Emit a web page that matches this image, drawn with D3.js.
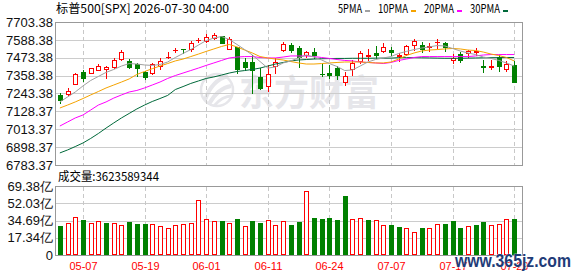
<!DOCTYPE html>
<html>
<head>
<meta charset="utf-8">
<script src="https://cdn.jsdelivr.net/npm/d3@7"></script>
<style>
  body { margin: 0; background: #fff; }
  svg text { font-family: "Liberation Sans", Arial, sans-serif; }
  .cjk { font-family: "Noto Sans CJK SC", sans-serif !important; }
</style>
</head>
<body>
<svg id="chart" width="578" height="276"></svg>
<script>
// trading days shown on the chart
const dates = ['05-04','05-05','05-06','05-07','05-08','05-11','05-12','05-13','05-14','05-15',
  '05-18','05-19','05-20','05-21','05-22','05-26','05-27','05-28','05-29','06-01',
  '06-02','06-03','06-04','06-05','06-08','06-09','06-10','06-11','06-12','06-15',
  '06-16','06-17','06-18','06-22','06-23','06-24','06-25','06-26','06-29','06-30',
  '07-01','07-02','07-06','07-07','07-08','07-09','07-10','07-13','07-14','07-15',
  '07-16','07-17','07-20','07-21','07-22','07-23','07-24','07-27','07-28','07-29']

const open = [7233.7, 7238.3, 7302.6, 7379.8, 7373.4, 7392.7, 7399.1, 7415.8, 7463.4, 7452.5,
  7431.3, 7379.8, 7377.2, 7418.4, 7475.0, 7521.3, 7529.7, 7529.7, 7585.7, 7583.1,
  7602.4, 7610.1, 7527.8, 7542.6, 7448.0, 7444.1, 7351.5, 7291.6, 7422.3, 7523.3,
  7558.6, 7532.9, 7491.1, 7510.4, 7370.1, 7377.2, 7407.4, 7319.3, 7397.8, 7452.5,
  7485.9, 7505.9, 7518.8, 7523.3, 7484.7, 7500.7, 7557.4, 7558.6, 7542.6, 7574.7,
  7566.4, 7458.9, 7495.6, 7502.0, 7512.3, 7423.5, 7416.5, 7476.3, 7399.1, 7426.8]
const high = [7246.6, 7280.7, 7372.1, 7392.7, 7408.0, 7430.0, 7420.3, 7469.9, 7523.3, 7463.4,
  7437.7, 7390.1, 7441.6, 7469.9, 7512.3, 7538.1, 7530.9, 7579.2, 7602.4, 7624.3,
  7630.7, 7615.3, 7606.9, 7544.5, 7469.9, 7487.9, 7409.4, 7426.8, 7469.9, 7576.7,
  7565.1, 7549.0, 7518.8, 7536.1, 7430.0, 7426.8, 7423.5, 7381.7, 7462.1, 7520.0,
  7527.8, 7549.0, 7566.4, 7544.5, 7502.0, 7558.6, 7592.1, 7576.7, 7565.1, 7590.8,
  7576.7, 7500.7, 7512.3, 7523.3, 7534.2, 7458.9, 7462.1, 7491.1, 7454.4, 7449.3]
const low = [7182.3, 7233.7, 7301.3, 7323.8, 7372.1, 7391.4, 7345.1, 7405.5, 7462.1, 7405.5,
  7357.9, 7336.7, 7366.9, 7399.1, 7473.7, 7508.5, 7504.0, 7516.8, 7571.5, 7571.5,
  7592.7, 7565.1, 7526.5, 7377.2, 7394.6, 7244.7, 7272.3, 7261.4, 7373.4, 7520.0,
  7510.4, 7413.9, 7478.2, 7471.8, 7352.8, 7343.1, 7336.7, 7298.1, 7359.2, 7442.8,
  7460.9, 7471.8, 7512.3, 7491.1, 7452.5, 7491.1, 7523.3, 7510.4, 7520.0, 7539.3,
  7516.8, 7442.8, 7448.0, 7478.2, 7491.1, 7383.6, 7401.0, 7388.2, 7388.2, 7317.4]
const close = [7198.4, 7259.5, 7368.9, 7341.2, 7405.5, 7422.3, 7412.0, 7458.9, 7508.5, 7415.8,
  7409.4, 7351.5, 7435.1, 7452.5, 7478.2, 7524.5, 7526.5, 7566.4, 7589.5, 7608.8,
  7621.1, 7566.4, 7594.0, 7401.0, 7415.8, 7394.6, 7276.9, 7366.9, 7448.0, 7559.9,
  7523.3, 7478.2, 7510.4, 7487.9, 7366.9, 7362.4, 7361.1, 7356.0, 7439.6, 7502.0,
  7488.5, 7491.1, 7544.5, 7507.2, 7487.9, 7545.8, 7581.2, 7527.8, 7545.8, 7577.9,
  7542.6, 7468.6, 7458.9, 7516.8, 7514.9, 7416.5, 7419.0, 7422.3, 7433.2, 7319.3]

// moving averages
const ma5 = [7189, 7221, 7253, 7292, 7327, 7353, 7379, 7398, 7420, 7436,
  7433, 7427, 7424, 7430, 7446, 7475, 7501, 7526, 7555, 7584,
  7600, 7610, 7591, 7559, 7526, 7491, 7449, 7407, 7414, 7440,
  7453, 7472, 7491, 7478, 7459, 7436, 7417, 7391, 7395, 7420,
  7446, 7462, 7472, 7481, 7501, 7514, 7526, 7536, 7543, 7552,
  7549, 7533, 7517, 7504, 7494, 7478, 7469, 7456, 7440, 7420]
const ma10 = [7150, 7169, 7189, 7211, 7234, 7256, 7279, 7298, 7317, 7337,
  7366, 7385, 7403, 7420, 7436, 7453, 7465, 7481, 7497, 7514,
  7530, 7546, 7559, 7543, 7523, 7504, 7481, 7472, 7465, 7459,
  7449, 7440, 7433, 7433, 7436, 7440, 7443, 7446, 7446, 7446,
  7443, 7440, 7440, 7446, 7465, 7488, 7504, 7517, 7523, 7526,
  7530, 7533, 7530, 7523, 7520, 7510, 7497, 7488, 7475, 7453]
const ma20 = [7034, 7060, 7086, 7105, 7137, 7169, 7189, 7214, 7234, 7253,
  7263, 7279, 7298, 7317, 7340, 7359, 7375, 7391, 7407, 7424,
  7440, 7456, 7472, 7478, 7481, 7481, 7475, 7472, 7472, 7478,
  7485, 7485, 7485, 7481, 7475, 7469, 7462, 7456, 7453, 7446,
  7443, 7440, 7436, 7443, 7456, 7465, 7475, 7481, 7481, 7481,
  7481, 7481, 7481, 7481, 7485, 7491, 7494, 7494, 7494, 7494]
const ma30 = [6861, 6880, 6902, 6925, 6954, 6986, 7021, 7054, 7086, 7115,
  7144, 7169, 7192, 7211, 7231, 7269, 7288, 7308, 7324, 7340,
  7350, 7362, 7375, 7385, 7391, 7398, 7407, 7420, 7433, 7443,
  7453, 7459, 7462, 7465, 7467, 7468, 7469, 7469, 7470, 7470,
  7470, 7471, 7471, 7471, 7474, 7474, 7474, 7473, 7472, 7471,
  7470, 7470, 7470, 7471, 7472, 7473, 7474, 7474, 7475, 7475]

// volume in 亿 (last one is 3623589344)
const volume = [29.2, 32.2, 37.9, 35.4, 32.2, 34.0, 32.2, 32.2, 30.0, 33.2,
  31.3, 31.3, 31.0, 28.9, 27.1, 30.0, 31.0, 32.2, 55.0, 35.9,
  33.9, 34.2, 32.2, 36.2, 29.0, 34.2, 32.2, 35.0, 30.0, 33.9,
  30.2, 33.5, 64.4, 37.2, 36.2, 37.2, 35.2, 59.3, 35.9, 36.9,
  35.2, 34.9, 29.9, 30.2, 28.2, 26.8, 22.8, 27.1, 26.8, 30.9,
  31.2, 34.2, 27.1, 28.8, 30.2, 33.2, 29.9, 30.9, 35.9, 36.23589344]

const priceTicks = [6783.37, 6898.37, 7013.37, 7128.37, 7243.38, 7358.38, 7473.38, 7588.38, 7703.38]
const volumeTicks = [0, 17.34, 34.69, 52.03, 69.38]
const dateTicks = ['05-07', '05-19', '06-01', '06-11', '06-24', '07-07', '07-17', '07-29']
const maNames = ['5PMA', '10PMA', '20PMA', '30PMA']
const maColors = ['#a0a0a0', '#f5a300', '#ff00ff', '#00693a']
const titleText = '标普500[SPX] 2026-07-30 04:00'
const volumeTitle = '成交量:3623589344'

const RED = '#ff0000', GREEN = '#008000'
const svg = d3.select('#chart')

const x = d3.scaleBand().domain(dates).range([56, 518]).paddingInner(0.35).paddingOuter(0.175)
const cx = d => Math.round(x(d) + x.bandwidth() / 2) + 0.5
const y = d3.scaleLinear().domain([priceTicks[0], priceTicks[priceTicks.length - 1]]).range([165, 22])
const vy = d3.scaleLinear().domain([0, volumeTicks[volumeTicks.length - 1]]).range([255, 186])
const ry = v => Math.round(y(v))

const bars = dates.map((d, i) => ({
  d, i, o: open[i], h: high[i], l: low[i], c: close[i], v: volume[i],
  up: close[i] >= open[i],
  vup: i === 0 ? close[i] >= open[i] : close[i] >= close[i - 1]
}))

// watermark
const wm = svg.append('g').attr('fill', 'none').attr('stroke', '#e6e6ea')
wm.append('circle').attr('cx', 217).attr('cy', 90).attr('r', 16).attr('stroke-width', 2.5)
wm.append('path').attr('d', 'M205,100 Q212,80 228,76').attr('stroke-width', 4)
wm.append('path').attr('d', 'M209,104 Q218,88 231,86').attr('stroke-width', 4)
wm.append('path').attr('d', 'M214,106 Q222,96 232,96').attr('stroke-width', 3)
svg.append('text').attr('class', 'cjk')
  .attr('x', 239).attr('y', 106)
  .attr('font-size', 36).attr('font-weight', 'bold')
  .attr('fill', '#e6e6ea')
  .attr('textLength', 140).attr('lengthAdjust', 'spacingAndGlyphs')
  .text('东方财富')

// grids
const grid = svg.append('g').attr('shape-rendering', 'crispEdges')
grid.selectAll('.hg').data(priceTicks).enter().append('line')
  .attr('x1', 56).attr('x2', 523)
  .attr('y1', d => ry(d) + 0.5).attr('y2', d => ry(d) + 0.5)
  .attr('stroke', '#cccccc')
grid.selectAll('.vhg').data(volumeTicks).enter().append('line')
  .attr('x1', 56).attr('x2', 523)
  .attr('y1', d => Math.round(vy(d)) + 0.5).attr('y2', d => Math.round(vy(d)) + 0.5)
  .attr('stroke', '#cccccc')
grid.selectAll('.vg').data(dateTicks).enter().append('line')
  .attr('x1', cx).attr('x2', cx).attr('y1', 23).attr('y2', 165)
  .attr('stroke', '#c8c8c8').attr('stroke-dasharray', '4,3')
grid.selectAll('.vvg').data(dateTicks).enter().append('line')
  .attr('x1', cx).attr('x2', cx).attr('y1', 187).attr('y2', 255)
  .attr('stroke', '#c8c8c8').attr('stroke-dasharray', '4,3')

// candles
const cg = svg.append('g').attr('shape-rendering', 'crispEdges')
bars.forEach(b => {
  const col = b.up ? RED : GREEN
  const xc = cx(b.d)
  cg.append('line').attr('x1', xc).attr('x2', xc)
    .attr('y1', ry(b.h)).attr('y2', ry(b.l) + 1).attr('stroke', col)
  const top = ry(Math.max(b.o, b.c)), bot = ry(Math.min(b.o, b.c))
  if (bot - top < 1) {
    cg.append('line').attr('x1', xc - 2.5).attr('x2', xc + 2.5)
      .attr('y1', top + 0.5).attr('y2', top + 0.5).attr('stroke', col)
  } else if (b.up) {
    cg.append('rect').attr('x', xc - 2).attr('y', top + 0.5)
      .attr('width', 4).attr('height', bot - top)
      .attr('fill', '#fff').attr('stroke', col)
  } else {
    cg.append('rect').attr('x', xc - 2.5).attr('y', top)
      .attr('width', 5).attr('height', bot - top + 1).attr('fill', col)
  }
})

// moving averages
const line = d3.line().x((v, i) => x(dates[i]) + x.bandwidth() / 2).y(v => y(v))
;[ma30, ma20, ma10, ma5].forEach((arr, k) => {
  svg.append('path').attr('d', line(arr)).attr('fill', 'none')
    .attr('stroke', maColors[3 - k]).attr('stroke-width', 1)
})

// volume bars
const vg = svg.append('g').attr('shape-rendering', 'crispEdges')
bars.forEach(b => {
  const xc = cx(b.d)
  const top = Math.round(vy(b.v))
  if (b.vup) {
    vg.append('rect').attr('x', xc - 2).attr('y', top + 0.5)
      .attr('width', 4).attr('height', 255 - top - 1)
      .attr('fill', '#fff').attr('stroke', RED)
  } else {
    vg.append('rect').attr('x', xc - 2.5).attr('y', top)
      .attr('width', 5).attr('height', 255 - top).attr('fill', GREEN)
  }
})

// frames
svg.append('rect').attr('x', 55.5).attr('y', 22.5).attr('width', 467).attr('height', 143)
  .attr('fill', 'none').attr('stroke', '#999').attr('shape-rendering', 'crispEdges')
svg.append('rect').attr('x', 55.5).attr('y', 186.5).attr('width', 467).attr('height', 69)
  .attr('fill', 'none').attr('stroke', '#999').attr('shape-rendering', 'crispEdges')

// axes
const ya = svg.append('g').attr('transform', 'translate(56,0)')
  .call(d3.axisLeft(y).tickValues(priceTicks).tickSize(0).tickPadding(3).tickFormat(d3.format('.2f')))
ya.select('.domain').remove()
ya.selectAll('text').attr('font-size', 13).attr('fill', '#111')
  .attr('font-family', '"Liberation Sans", Arial, sans-serif')

const va = svg.append('g').attr('transform', 'translate(56,0)')
  .call(d3.axisLeft(vy).tickValues(volumeTicks).tickSize(0).tickPadding(3)
    .tickFormat(d => d === 0 ? '0' : d3.format('.2f')(d) + '亿'))
va.select('.domain').remove()
va.selectAll('text').attr('font-size', 13).attr('fill', '#111')
  .attr('font-family', '"Liberation Sans", "Noto Sans CJK SC", sans-serif')

svg.append('g').selectAll('text').data(dateTicks).enter().append('text')
  .attr('x', cx).attr('y', 270).attr('text-anchor', 'middle')
  .attr('font-size', 11).attr('fill', RED)
  .attr('textLength', 28).attr('lengthAdjust', 'spacingAndGlyphs')
  .text(d => d)

// title and legend
svg.append('text').attr('class', 'cjk').attr('x', 56).attr('y', 13)
  .attr('font-size', 12).attr('fill', '#000')
  .attr('textLength', 173).attr('lengthAdjust', 'spacingAndGlyphs')
  .text(titleText)

let lx = 338
maNames.forEach((n, k) => {
  const w = n.length * 6
  svg.append('text').attr('class', 'cjk').attr('x', lx).attr('y', 13)
    .attr('font-size', 12).attr('fill', '#000')
    .attr('textLength', w).attr('lengthAdjust', 'spacingAndGlyphs').text(n)
  svg.append('rect').attr('x', lx + w + 3).attr('y', 10).attr('width', 5).attr('height', 2)
    .attr('fill', maColors[k])
  lx += w + 16
})

svg.append('text').attr('class', 'cjk').attr('x', 58).attr('y', 181)
  .attr('font-size', 12).attr('fill', '#000')
  .attr('textLength', 101).attr('lengthAdjust', 'spacingAndGlyphs')
  .text(volumeTitle)

// site watermark
svg.append('text').attr('x', 455).attr('y', 267)
  .attr('font-family', '"Liberation Serif", serif').attr('font-weight', 'bold')
  .attr('font-size', 18).attr('fill', '#1f3c78')
  .attr('stroke', '#fff').attr('stroke-width', 0.6).attr('paint-order', 'stroke')
  .attr('textLength', 116).attr('lengthAdjust', 'spacingAndGlyphs')
  .text('www.365jz.com')
</script>
</body>
</html>
